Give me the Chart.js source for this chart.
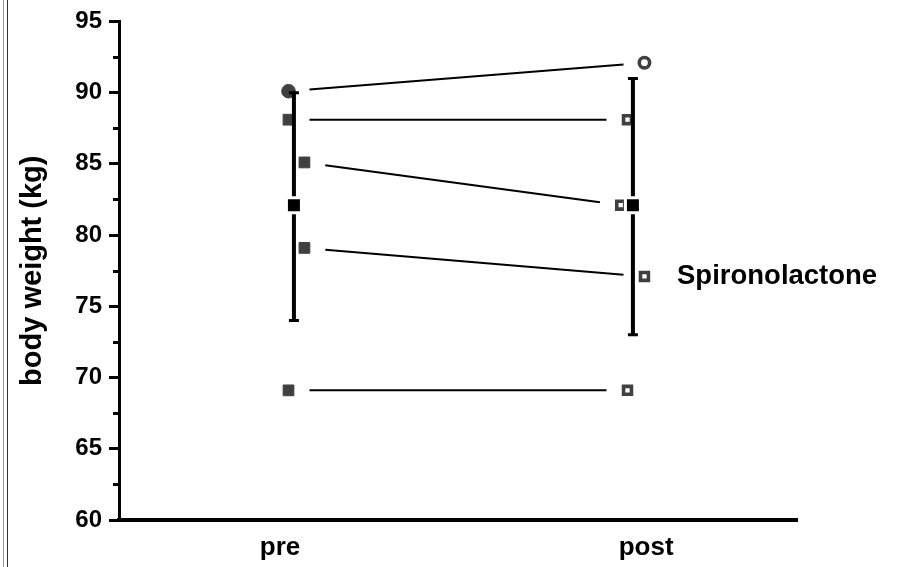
<!DOCTYPE html>
<html>
<head>
<meta charset="utf-8">
<script src="https://cdn.jsdelivr.net/npm/chart.js@4/dist/chart.umd.min.js"></script>
<style>
  html, body { margin: 0; padding: 0; background: #fff; }
  #wrap { position: relative; width: 899px; height: 567px; }
  #frame { position: absolute; left: 3px; top: 0; width: 3px; height: 567px;
           border-left: 1px solid #9a9a9a; border-right: 1px solid #333; }
  canvas { position: absolute; left: 0; top: 0; }
</style>
</head>
<body>
<div id="wrap">
  <canvas id="c" width="899" height="567"></canvas>
  <div id="frame"></div>
</div>
<script>
// ---- data ----
const categories = ['pre', 'post'];
const categoryPos = [1, 2];
const labelPos = [0.975, 2.055];
const preValues = [90.1, 88.1, 85.1, 79.1, 69.1];
const postValues = [92.1, 88.1, 82.1, 77.1, 69.1];
const preJitter = [0, 0, 0.047, 0.047, 0];
const postJitter = [0.05, 0, -0.02, 0.05, 0];
const subjectShapes = ['circle', 'rect', 'rect', 'rect', 'rect'];
const meanValues = [82.1, 82.1];
const errLow = [74, 73];
const errHigh = [90, 91];
const meanOffset = 0.016;
const yTicks = [60, 65, 70, 75, 80, 85, 90, 95];
const yMinorTicks = [62.5, 67.5, 72.5, 77.5, 82.5, 87.5, 92.5];
const groupLabel = 'Spironolactone';

const FONT = "'Liberation Sans', Arial, Helvetica, sans-serif";
const GRAY = '#404040';

const preData = preValues.map((v, i) => ({ x: categoryPos[0] + preJitter[i], y: v }));
const postData = postValues.map((v, i) => ({ x: categoryPos[1] + postJitter[i], y: v }));
const meanData = meanValues.map((v, i) => ({ x: categoryPos[i] + meanOffset, y: v }));

const shapeRadius = (shape, filled) => shape === 'circle' ? (filled ? 6.8 : 5.2) : (filled ? 7.6 : 5.6);

const datasets = [
  { // means (drawn on top)
    data: meanData, showLine: false, pointStyle: 'rect', pointRadius: 10.6,
    backgroundColor: '#000', borderColor: '#fff', pointBorderWidth: 3
  }
];
categoryPos.forEach((c, i) => {
  datasets.push({
    data: [{ x: c + meanOffset, y: errLow[i] }, { x: c + meanOffset, y: errHigh[i] }],
    showLine: true, borderColor: '#000', borderWidth: 4,
    pointStyle: 'line', pointRadius: 5, pointBorderWidth: 3, pointBorderColor: '#000'
  });
});
datasets.push({
  data: preData, showLine: false,
  pointStyle: ctx => subjectShapes[ctx.dataIndex],
  pointRadius: ctx => shapeRadius(subjectShapes[ctx.dataIndex], true),
  backgroundColor: GRAY, borderColor: GRAY, pointBorderWidth: 1
});
datasets.push({
  data: postData, showLine: false,
  pointStyle: ctx => subjectShapes[ctx.dataIndex],
  pointRadius: ctx => shapeRadius(subjectShapes[ctx.dataIndex], false),
  backgroundColor: '#fff', borderColor: GRAY, pointBorderWidth: 3.6
});

const pairLines = {
  id: 'pairLines',
  beforeDatasetsDraw(chart) {
    const xs = chart.scales.x, ys = chart.scales.y, ctx = chart.ctx;
    const gap = 21;
    ctx.save();
    ctx.strokeStyle = '#000';
    ctx.lineWidth = 2;
    preData.forEach((p, i) => {
      const q = postData[i];
      const x1 = xs.getPixelForValue(p.x), y1 = ys.getPixelForValue(p.y);
      const x2 = xs.getPixelForValue(q.x), y2 = ys.getPixelForValue(q.y);
      const len = Math.hypot(x2 - x1, y2 - y1);
      const ux = (x2 - x1) / len, uy = (y2 - y1) / len;
      ctx.beginPath();
      ctx.moveTo(x1 + ux * gap, y1 + uy * gap);
      ctx.lineTo(x2 - ux * gap, y2 - uy * gap);
      ctx.stroke();
    });
    ctx.restore();
  },
  afterDraw(chart) {
    const ys = chart.scales.y, ctx = chart.ctx;
    ctx.save();
    ctx.strokeStyle = '#000';
    ctx.lineWidth = 3;
    const xr = ys.right;
    yMinorTicks.forEach(v => {
      const y = Math.round(ys.getPixelForValue(v)) + 0.5;
      ctx.beginPath();
      ctx.moveTo(xr - 6, y);
      ctx.lineTo(xr, y);
      ctx.stroke();
    });
    ctx.fillStyle = '#000';
    ctx.font = 'bold 27.5px ' + FONT;
    ctx.textBaseline = 'alphabetic';
    ctx.textAlign = 'left';
    ctx.fillText(groupLabel, 677, 284);
    ctx.restore();
  }
};

new Chart(document.getElementById('c'), {
  type: 'scatter',
  data: { datasets },
  options: {
    responsive: false,
    animation: false,
    layout: { padding: { left: 0, top: 21, right: 102, bottom: 0 } },
    plugins: { legend: { display: false }, tooltip: { enabled: false } },
    scales: {
      x: {
        type: 'linear', min: 0.5, max: 2.5,
        afterFit: s => { s.height = 47; },
        afterBuildTicks: s => { s.ticks = labelPos.map(v => ({ value: v })); },
        grid: { display: false, drawTicks: false },
        border: { display: true, color: '#000', width: 4 },
        ticks: {
          padding: 12, color: '#000', maxRotation: 0, autoSkip: false,
          font: { family: FONT, size: 26, weight: 'bold' },
          callback: (v, i) => categories[i]
        }
      },
      y: {
        type: 'linear', min: 60, max: 95,
        afterFit: s => { s.width = 119; },
        afterBuildTicks: s => { s.ticks = yTicks.map(v => ({ value: v })); },
        grid: { drawOnChartArea: false, drawTicks: true, tickLength: 10, tickWidth: 3, tickColor: '#000' },
        border: { display: true, color: '#000', width: 3 },
        ticks: {
          padding: 7, color: '#000',
          font: { family: FONT, size: 24, weight: 'bold' },
          callback: v => String(v)
        },
        title: {
          display: true, text: 'body weight (kg)', color: '#000',
          font: { family: FONT, size: 29, weight: 'bold' },
          padding: { top: 16, bottom: 0 }
        }
      }
    }
  },
  plugins: [pairLines]
});
</script>
</body>
</html>
